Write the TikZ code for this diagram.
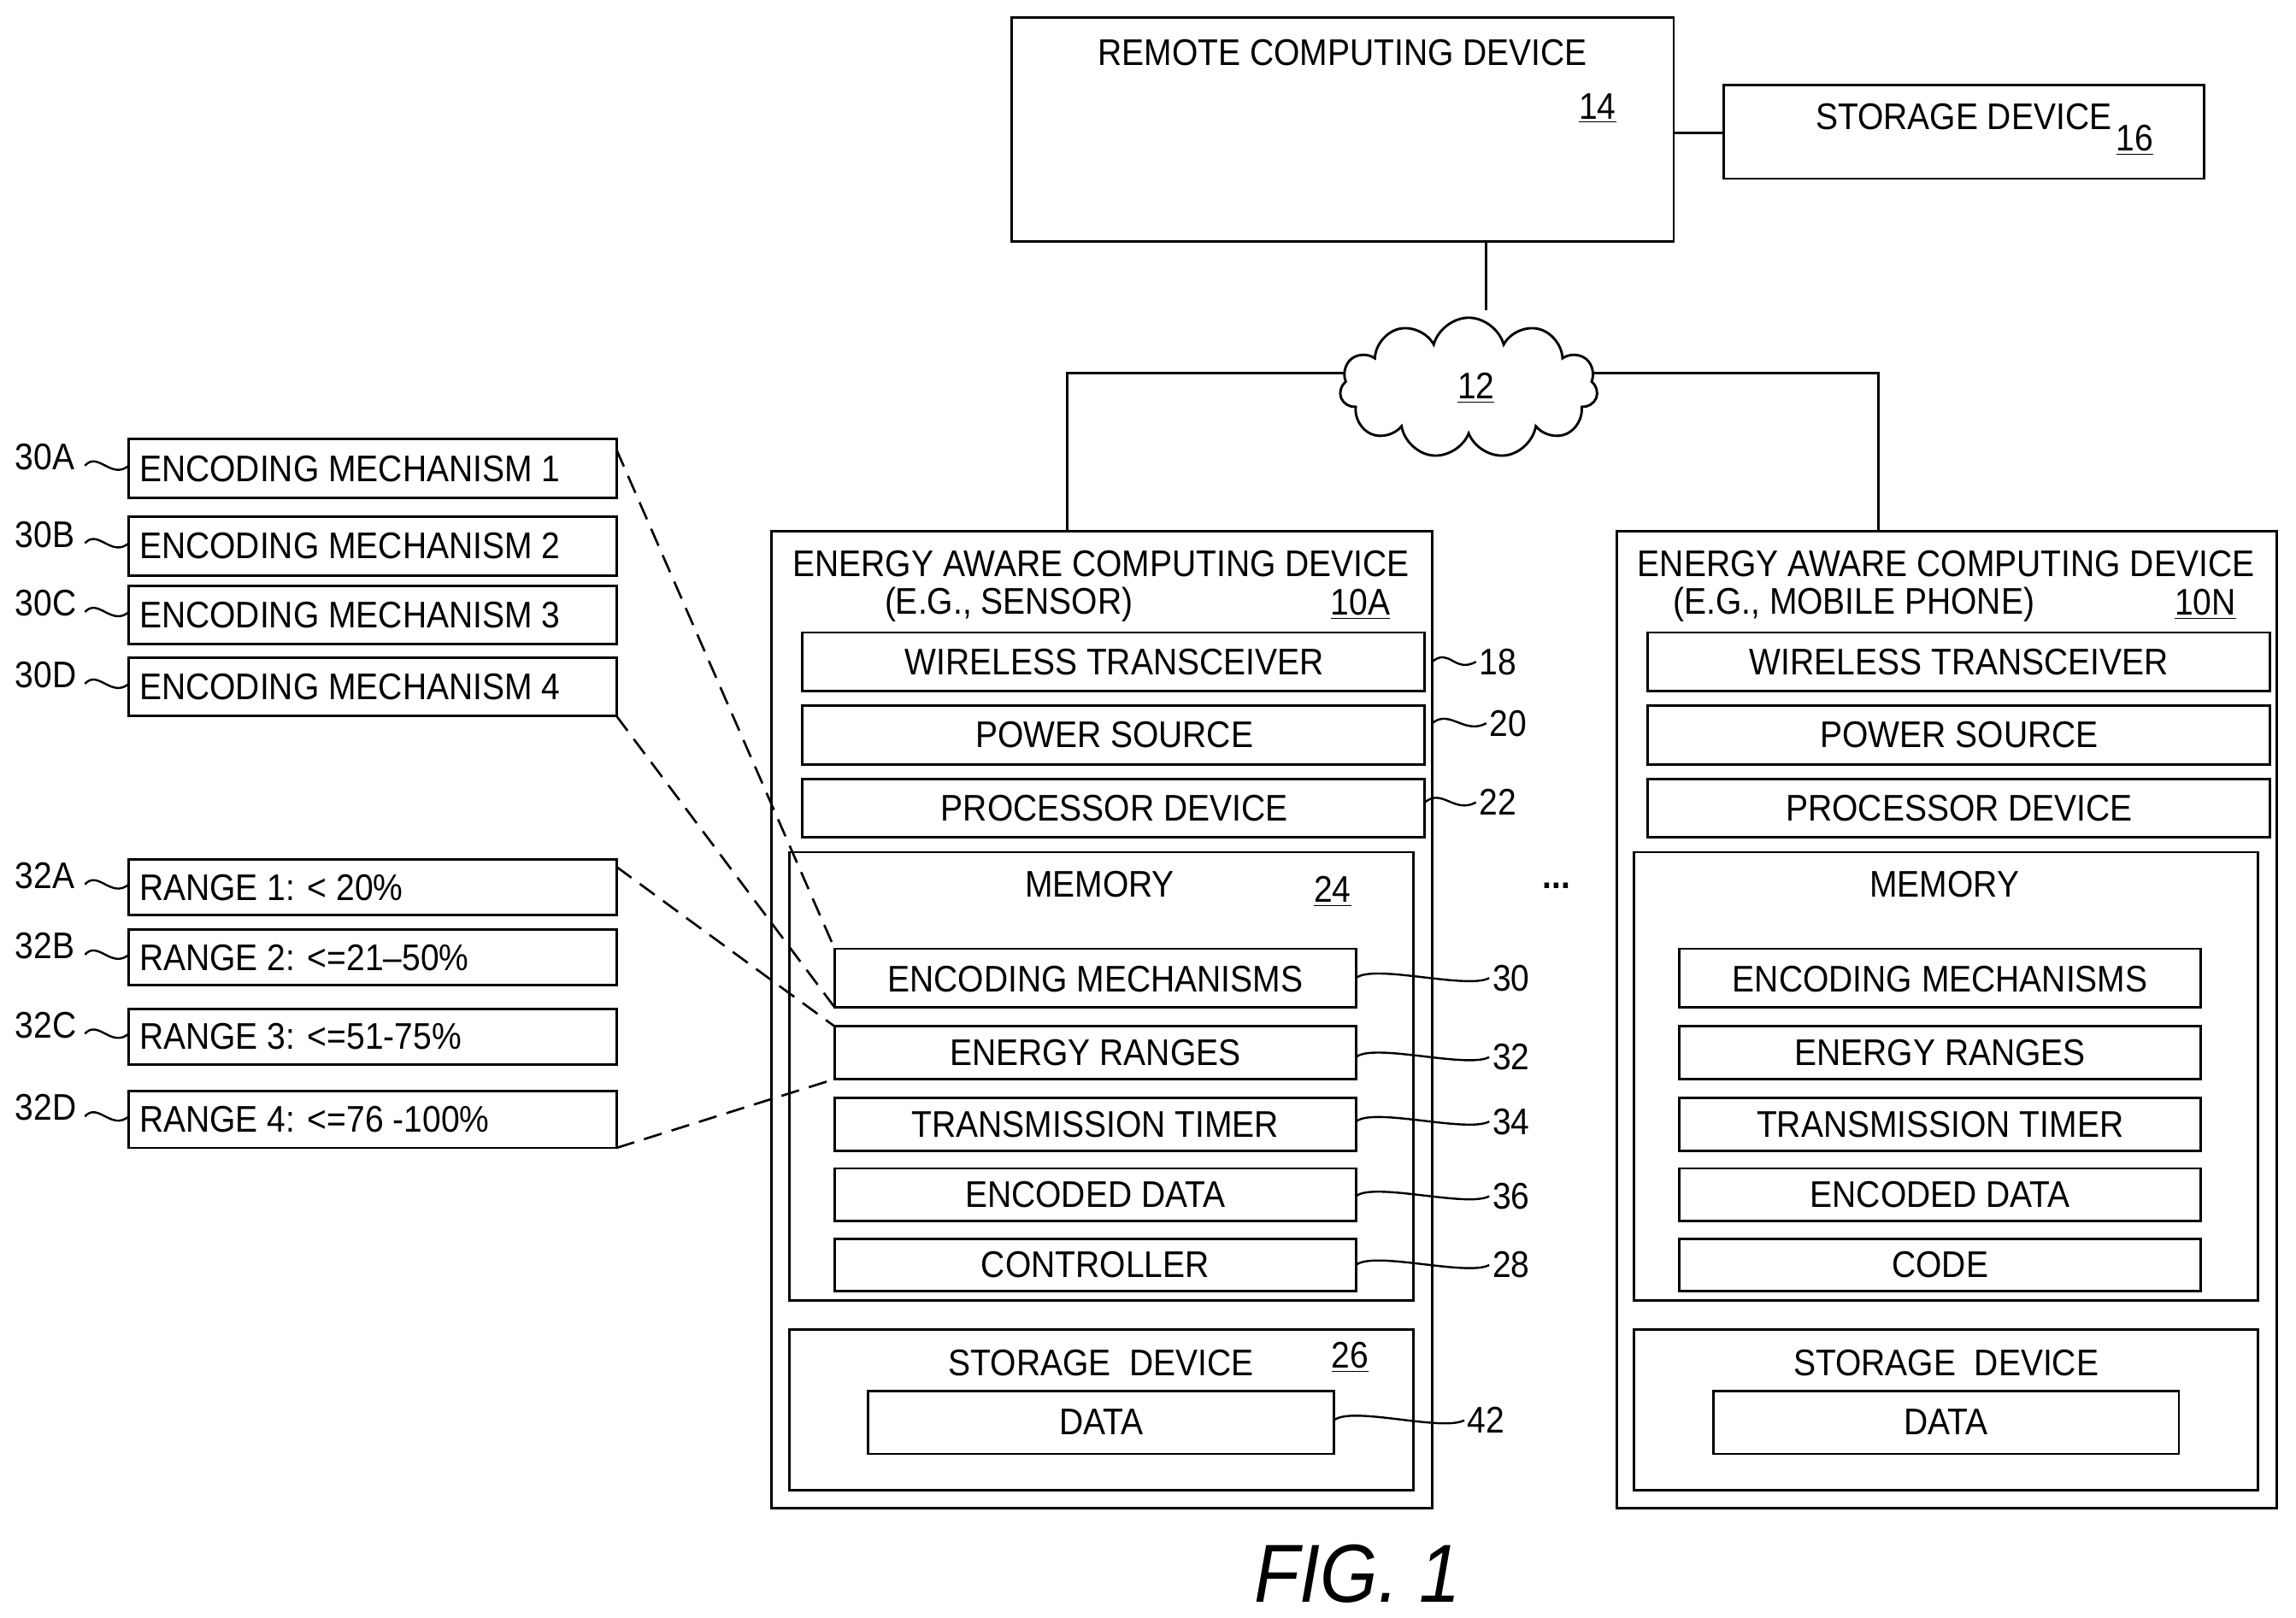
\documentclass[tikz,border=0pt]{standalone}
\usepackage{fontspec}
\setmainfont[FakeStretch=0.9]{Liberation Sans}
\usetikzlibrary{shapes.symbols}
\begin{document}
\begin{tikzpicture}[x=0.025cm,y=-0.025cm,
  box/.style={draw,line width=1.2pt},
  t/.style={font=\fontsize{18}{20}\selectfont,inner sep=0},
  ref/.style={font=\fontsize{18}{20}\selectfont,inner sep=0},
  sq/.style={line width=1pt},
  dsh/.style={line width=1.1pt,dash pattern=on 9pt off 5pt}]
\useasboundingbox (0,0) rectangle (1568,1105);
% remote
\draw[box] (691,12) rectangle (1143,165);
\node[t] (rc) at (917,36) {REMOTE COMPUTING DEVICE};
\node[t] (n14) at (1091,74) {\underline{14}};
\draw[box] (1177,58) rectangle (1505,122);
\node[t] (sd) at (1341,80) {STORAGE DEVICE};
\node[t] (n16) at (1458,96) {\underline{16}};
\coordinate (ra) at (1143,91); \coordinate (sa) at (1177,91);
\draw[line width=1.2pt] (ra) -- (sa);
% cloud
\node[cloud,draw,line width=1.2pt,cloud puffs=11,aspect=1.9,minimum width=4.4cm,minimum height=2.4cm] (cl) at (1003,265) {};
\node[t] at (1008,265) {\underline{12}};
\coordinate (ct) at (1015,165);
\draw[line width=1.2pt] (ct) -- (1015,212);
\draw[line width=1.2pt] (918,255) -- (729,255) -- (729,363);
\draw[line width=1.2pt] (1089,255) -- (1283,255) -- (1283,363);
% devices
\foreach \dx/\tB/\lab/\last in {0/{(E.G., SENSOR)}/10A/CONTROLLER, 577/{(E.G., MOBILE PHONE)}/10N/CODE}{
 \begin{scope}[xshift=\dx*0.025cm]
 \draw[box] (527,363) rectangle (978,1030);
 \node[t] at (752,385) {ENERGY AWARE COMPUTING DEVICE};
 \node[t] at (689,413) {\tB};
 \node[t] at (929,413) {\underline{\lab}};
 \draw[box] (548,432) rectangle (973,472); \node[t] at (761,452) {WIRELESS TRANSCEIVER};
 \draw[box] (548,482) rectangle (973,522); \node[t] at (761,502) {POWER SOURCE};
 \draw[box] (548,532) rectangle (973,572); \node[t] at (761,552) {PROCESSOR DEVICE};
 \draw[box] (539,582) rectangle (965,888); \node[t] at (751,604) {MEMORY};
 \draw[box] (570,648) rectangle (926,688); \node[t] at (748,669) {ENCODING MECHANISMS};
 \draw[box] (570,701) rectangle (926,737); \node[t] at (748,719) {ENERGY RANGES};
 \draw[box] (570,750) rectangle (926,786); \node[t] at (748,768) {TRANSMISSION TIMER};
 \draw[box] (570,798) rectangle (926,834); \node[t] at (748,816) {ENCODED DATA};
 \draw[box] (570,846) rectangle (926,882); \node[t] at (748,864) {\last};
 \draw[box] (539,908) rectangle (965,1018); \node[t] at (752,931) {STORAGE\ \ DEVICE};
 \draw[box] (593,950) rectangle (911,993); \node[t] at (752,971) {DATA};
 \end{scope}}
\node[t] at (910,609) {\underline{24}};
\node[t] at (922,927) {\underline{26}};
\node[t] at (1063,605) {\textbf{...}};
% right refs
\foreach \x/\y/\ex/\lab in {978/452/1008/18,978/494/1015/20,973/548/1008/22,926/668/1017/30,926/722/1017/32,926/766/1017/34,926/817/1017/36,926/864/1017/28,911/970/1000/42}{
 \draw[sq] (\x,\y) .. controls (\x+12,\y-10) and (\ex-15,\y+8) .. (\ex,\y);
 \node[ref,anchor=west] at (\ex+2,\y) {\lab};}
% left boxes
\foreach \ya/\yb/\txt/\lab in {300/340/{ENCODING MECHANISM 1}/30A,353/393/{ENCODING MECHANISM 2}/30B,400/440/{ENCODING MECHANISM 3}/30C,449/489/{ENCODING MECHANISM 4}/30D,587/625/{RANGE 1: < 20\%}/32A,635/673/{RANGE 2: <=21–50\%}/32B,689/727/{RANGE 3: <=51-75\%}/32C,745/784/{RANGE 4: <=76 -100\%}/32D}{
 \pgfmathsetmacro\ym{(\ya+\yb)/2}
 \draw[box] (88,\ya) rectangle (421,\yb);
 \node[t,anchor=west] at (95,\ym) {\txt};
 \node[ref,anchor=west] at (10,\ym-8) {\lab};
 \draw[sq] (58,\ym-2) .. controls (67,\ym-12) and (76,\ym+8) .. (88,\ym-2);}
\draw[dsh] (421,307) -- (570,648);
\draw[dsh] (421,489) -- (570,688);
\draw[dsh] (421,592) -- (570,701);
\draw[dsh] (421,784) -- (570,737);
\node[font=\fontsize{40}{44}\selectfont\itshape,inner sep=0] at (927,1075) {FIG. 1};
\end{tikzpicture}
\end{document}
